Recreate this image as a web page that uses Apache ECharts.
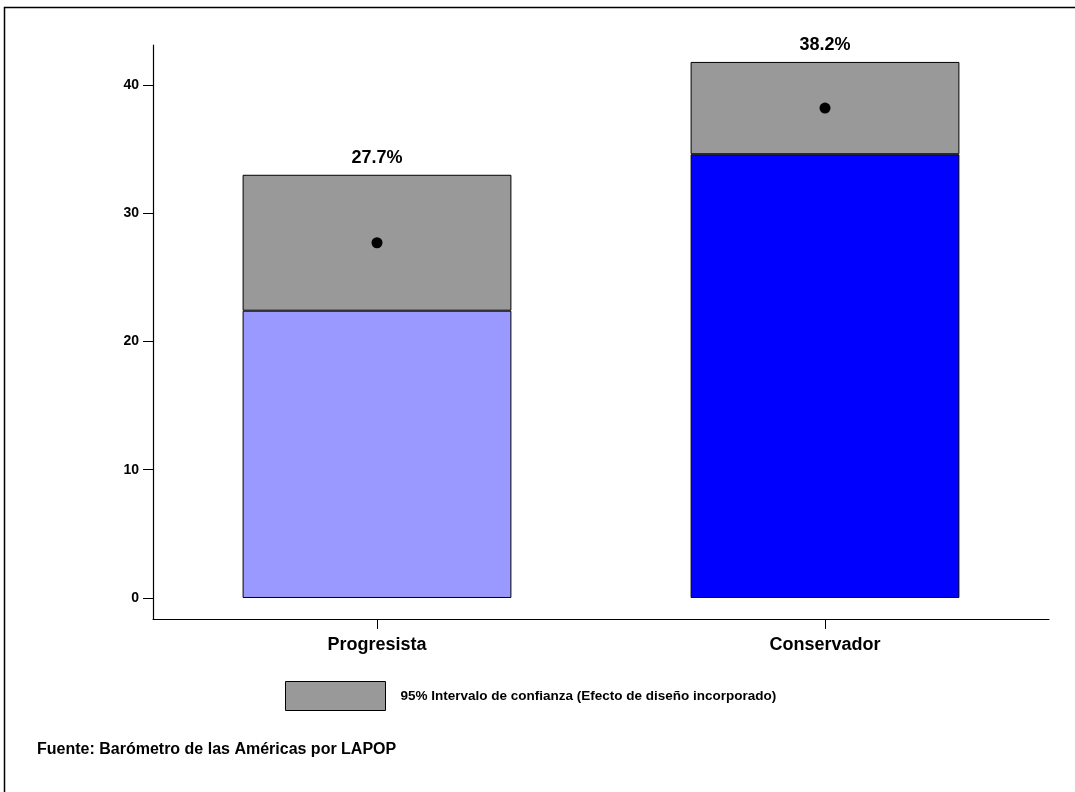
<!DOCTYPE html>
<html>
<head>
<meta charset="utf-8">
<script src="https://cdn.jsdelivr.net/npm/echarts@6/dist/echarts.min.js"></script>
<style>
  html, body { margin: 0; padding: 0; background: #fff; }
  #chart { width: 1075px; height: 792px; }
</style>
</head>
<body>
<div id="chart"></div>
<script>
// datos
const categories = ['Progresista', 'Conservador'];
const means = [27.7, 38.2];
const ciLower = [22.4, 34.6];
const ciUpper = [33.0, 41.8];
const barColors = ['#9999FF', '#0000FF'];
const yTicks = [0, 10, 20, 30, 40];
const ciName = '95% Intervalo de confianza (Efecto de diseño incorporado)';

const chart = echarts.init(document.getElementById('chart'));
const font = 'Liberation Sans, Arial, sans-serif';

const option = {
  animation: false,
  backgroundColor: '#fff',
  textStyle: { fontFamily: font },
  grid: { left: 153, right: 26, top: 45, bottom: 173, containLabel: false },
  title: {
    text: 'Fuente: Barómetro de las Américas por LAPOP',
    left: 32, top: 737,
    textStyle: { fontFamily: font, fontSize: 16, fontWeight: 'bold', color: '#000' }
  },
  legend: {
    data: [{ name: ciName, icon: 'rect' }],
    left: 280, top: 676,
    itemWidth: 100, itemHeight: 29, itemGap: 10,
    itemStyle: { borderColor: '#000', borderWidth: 1 },
    textStyle: { fontFamily: font, fontSize: 13.5, fontWeight: 'bold', color: '#000', padding: [0, 0, 0, 10] },
    selectedMode: false
  },
  xAxis: {
    type: 'category',
    data: categories,
    axisLine: { onZero: false, lineStyle: { color: '#000', width: 1.2 } },
    axisTick: { show: true, alignWithLabel: true, interval: 0, length: 10, lineStyle: { color: '#000' } },
    axisLabel: { color: '#000', fontSize: 18, fontWeight: 'bold', margin: 17 }
  },
  yAxis: {
    type: 'value',
    min: -1.64, max: 43.12,
    splitLine: { show: false },
    axisLine: { show: true, lineStyle: { color: '#000', width: 1.2 } },
    axisTick: { show: true, length: 10, customValues: yTicks, lineStyle: { color: '#000' } },
    axisLabel: { color: '#000', fontSize: 14, fontWeight: 'bold', margin: 14, customValues: yTicks }
  },
  series: [
    {
      name: 'base',
      type: 'bar',
      stack: 'ci',
      barWidth: '60%',
      data: ciLower.map((v, i) => ({ value: v, itemStyle: { color: barColors[i] } })),
      itemStyle: { borderColor: '#000', borderWidth: 1 }
    },
    {
      name: ciName,
      type: 'bar',
      stack: 'ci',
      barWidth: '60%',
      data: ciUpper.map((u, i) => +(u - ciLower[i]).toFixed(2)),
      itemStyle: { color: '#999999', borderColor: '#000', borderWidth: 1 },
      label: {
        show: true, position: 'top', distance: 8,
        formatter: p => means[p.dataIndex].toFixed(1) + '%',
        fontFamily: font, fontSize: 18, fontWeight: 'bold', color: '#000'
      }
    },
    {
      name: 'media',
      type: 'scatter',
      data: means,
      symbolSize: 11,
      itemStyle: { color: '#000', opacity: 1 },
      z: 5
    }
  ],
  graphic: [
    {
      type: 'rect',
      shape: { x: 4.5, y: 7.5, width: 1100, height: 800 },
      style: { fill: 'none', stroke: '#000', lineWidth: 1.5 },
      silent: true
    }
  ]
};

chart.setOption(option);
window.addEventListener('resize', () => chart.resize());
</script>
</body>
</html>
